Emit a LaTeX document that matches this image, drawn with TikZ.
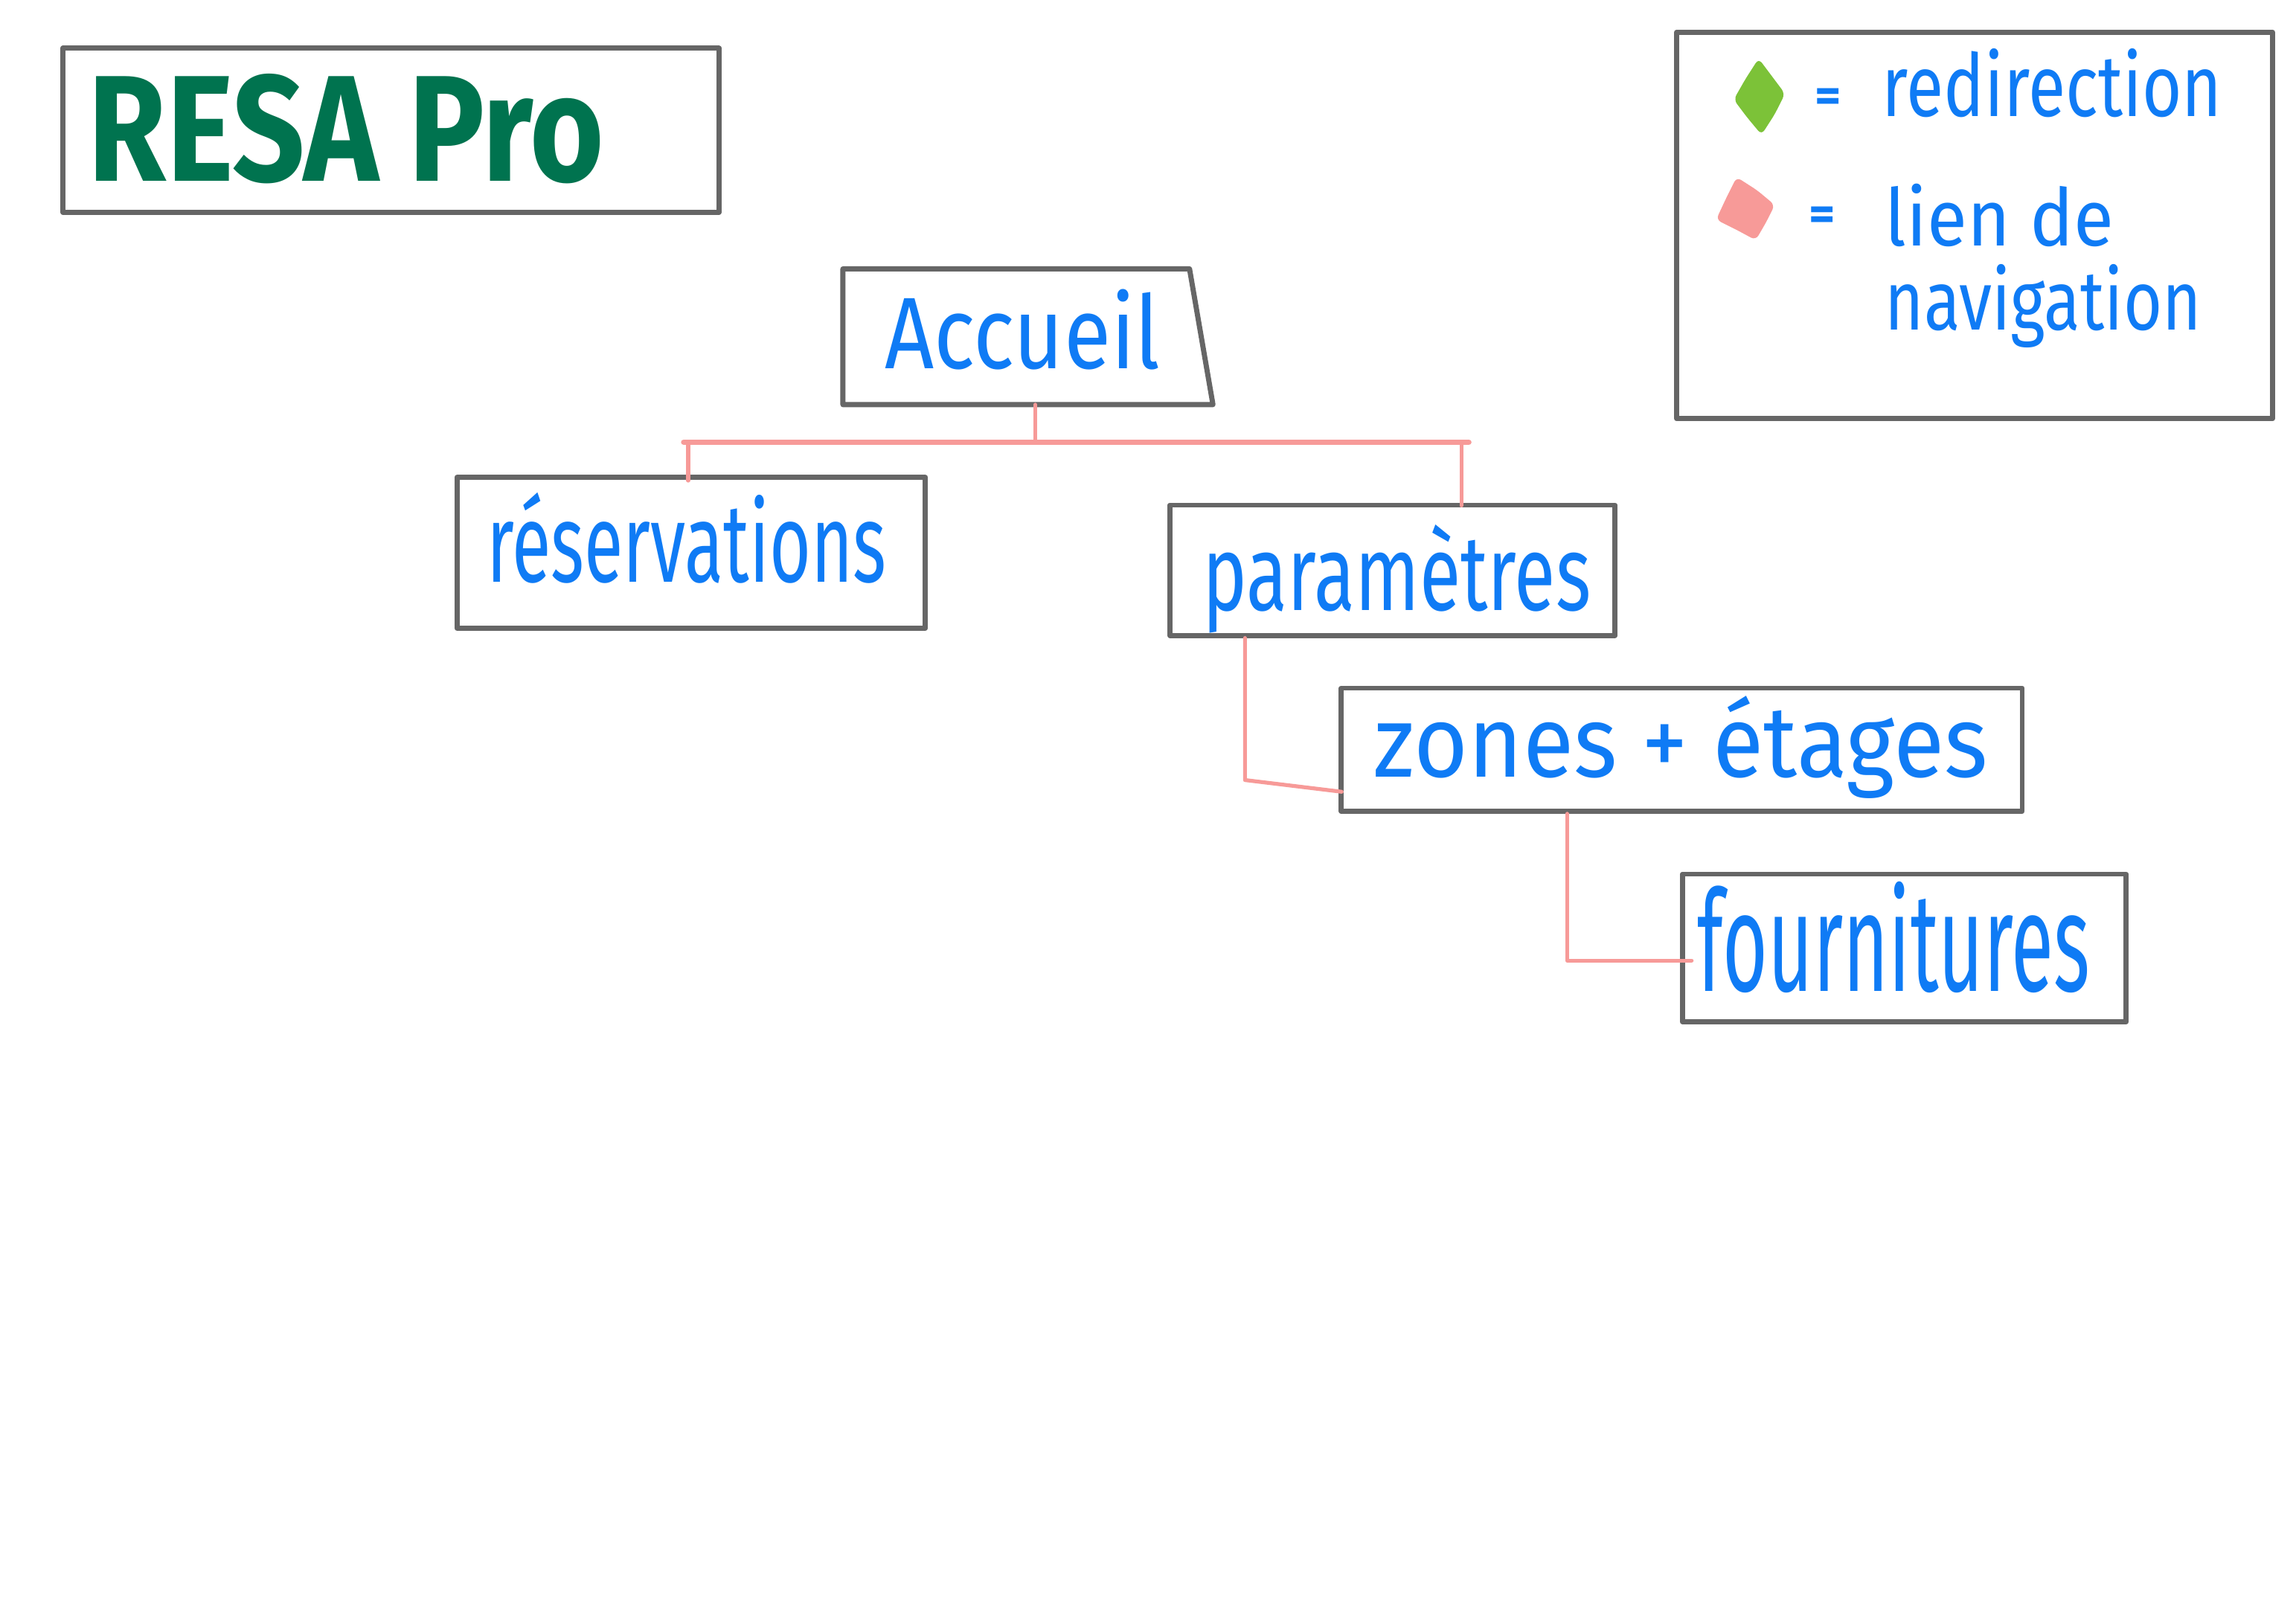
\documentclass[tikz,border=0pt]{standalone}
\usepackage{fontspec}
\setmainfont{Fira Sans}
\usepackage{graphicx}
\usetikzlibrary{calc,fit}
\definecolor{boxgray}{HTML}{666666}
\definecolor{inkblue}{HTML}{0F7BF5}
\definecolor{titlegreen}{HTML}{00734F}
\definecolor{linkpink}{HTML}{F79A98}
\definecolor{legendgreen}{HTML}{7CC238}
\newlength\uu
\setlength\uu{0.02cm}
\newcommand\fittext[3]{\resizebox*{#1\uu}{#2\uu}{#3}}
\tikzset{
  boxframe/.style={draw=boxgray, line width=2pt, inner sep=0pt, line join=round},
  ghost/.style={inner sep=0pt},
  handtext/.style={inner sep=0pt, anchor=north west, text=inkblue},
  link/.style={draw=linkpink, line width=1.5pt, line cap=round, line join=round},
  linkbar/.style={draw=linkpink, line width=2.2pt, line cap=round},
}
\begin{document}
\begin{tikzpicture}[x=0.02cm, y=-0.02cm]
\useasboundingbox[fill=white] (0,0) rectangle (1568,1109);

% title
\node[boxframe, fit={(43,33) (491,145)}] (title) {};
\node[handtext, text=titlegreen] (titletxt) at (60,50) {\fittext{352}{75}{\bfseries RESA Pro}};

% legend
\node[boxframe, fit={(1145,22) (1552,286)}] (legend) {};
\fill[legendgreen, rounded corners=2pt] (1201,40) -- (1210,52) -- (1219,64) -- (1212,78) -- (1203,92) -- (1193,80) -- (1184,68) -- (1192,54) -- cycle;
\fill[linkpink, rounded corners=2pt] (1186,121) -- (1200,130) -- (1212,140) -- (1206,152) -- (1199,164) -- (1186,157) -- (1172,150) -- (1179,135) -- cycle;
\node[handtext] (eq1) at (1239,60) {\fittext{18}{16}{\bfseries =}};
\node[handtext] (redir) at (1285,33) {\fittext{232}{47}{redirection}};
\node[handtext] (eq2) at (1235,141) {\fittext{18}{16}{\bfseries =}};
\node[handtext] (lien) at (1287,125) {\fittext{156}{43}{lien de}};
\node[handtext] (navig) at (1287,180) {\fittext{216}{57}{navigation}};

% Accueil (slanted right side)
\node[ghost, fit={(576,184) (812,276)}] (acc) {};
\draw[boxgray, line width=2pt, line join=round] (acc.north west) -- (acc.north east) -- ($(acc.south east)+(16,0)$) -- (acc.south west) -- cycle;
\node[handtext] (acctxt) at (604,197) {\fittext{188}{55}{Accueil}};

% other boxes
\node[boxframe, fit={(312,326) (632,429)}] (res) {};
\node[handtext] (restxt) at (332,336) {\fittext{273}{62}{réservations}};

\node[boxframe, fit={(799,345) (1103,434)}] (par) {};
\node[handtext] (partxt) at (821,358) {\fittext{265}{74}{paramètres}};

\node[boxframe, fit={(916,470) (1381,554)}] (zon) {};
\node[handtext] (zontxt) at (938,475) {\fittext{419}{70}{zones + étages}};

\node[boxframe, fit={(1149,597) (1452,698)}] (fou) {};
\node[handtext] (foutxt) at (1159,602) {\fittext{268}{76}{fournitures}};

% connectors
\coordinate (jl) at (467,302);
\coordinate (jr) at (1003,302);
\coordinate (jres) at (470,302);
\coordinate (jpar) at (998,302);
\draw[link] ($(acc.south)+(13,0)$) -- ($(acc.south)+(13,26)$);
\draw[linkbar] (jl) -- (jr);
\draw[link] (jres) -- ($(jres |- res.north)+(0,4)$);
\draw[link] (jpar) -- ($(jpar |- par.north)+(0,2)$);
\draw[link] ($(par.south west)+(53,0)$) -- ++(0,97) -- ($(zon.south west)+(2,-15)$);
\draw[link] ($(zon.south west)+(156,0)$) |- ($(fou.west)+(8,8.5)$);
\end{tikzpicture}
\end{document}
